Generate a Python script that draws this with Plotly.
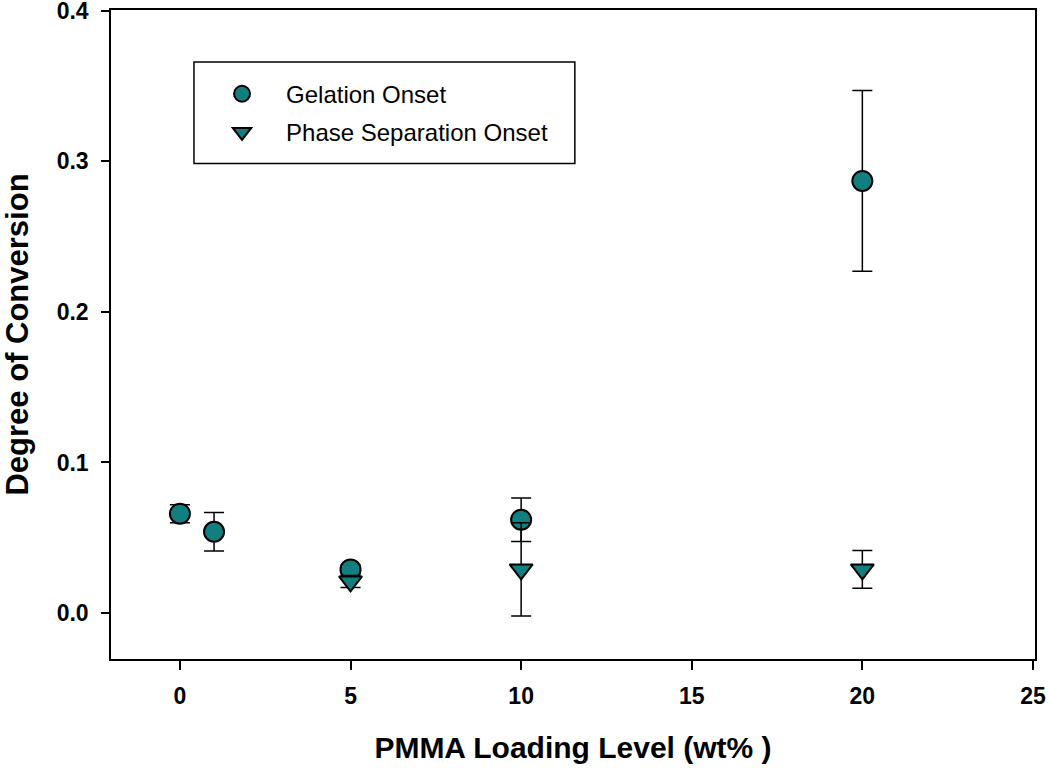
import plotly.graph_objects as go

# Data
x_gel = [0, 1, 5, 10, 20]
y_gel = [0.066, 0.054, 0.029, 0.062, 0.287]
err_gel = [0.006, 0.0128, 0.003, 0.0145, 0.06]

x_ps = [5, 10, 20]
y_ps = [0.021, 0.029, 0.029]
err_ps = [0.004, 0.031, 0.0125]

names = ["Gelation Onset", "Phase Separation Onset"]
x_ticks = [0, 5, 10, 15, 20, 25]
y_ticks = [0.0, 0.1, 0.2, 0.3, 0.4]

teal = "#117f7f"
FONT = "Liberation Sans, Arial, sans-serif"

fig = go.Figure()
fig.add_trace(go.Scatter(
    x=x_gel, y=y_gel, mode="markers", name=names[0], legendgroup="g1",
    marker=dict(symbol="circle", size=20, color=teal, line=dict(color="black", width=2)),
    error_y=dict(type="data", array=err_gel, visible=True, color="black", thickness=1.5, width=10),
))
fig.add_trace(go.Scatter(
    x=x_ps, y=y_ps, mode="markers", name=names[1], legendgroup="g2",
    marker=dict(symbol="triangle-down", size=20, color=teal, line=dict(color="black", width=2)),
    error_y=dict(type="data", array=err_ps, visible=True, color="black", thickness=1.5, width=10),
))

fig.update_layout(
    width=1050, height=770,
    margin=dict(l=111, r=15, t=10, b=111, autoexpand=False),
    paper_bgcolor="white", plot_bgcolor="white",
    font=dict(family=FONT, color="black"),
    showlegend=True,
    legend=dict(
        x=0.0942, y=0.905, xanchor="left", yanchor="top",
        bgcolor="rgba(0,0,0,0)", borderwidth=0,
        font=dict(size=24, family=FONT, color="black"),
        tracegroupgap=4, itemwidth=78,
    ),
    shapes=[dict(
        type="rect", xref="paper", yref="paper",
        x0=0.0898, x1=0.502, y0=0.7634, y1=0.920,
        line=dict(color="black", width=1.5), fillcolor="rgba(0,0,0,0)",
    )],
)

fig.update_xaxes(
    range=[-2.02, 25.06], tickvals=x_ticks, ticktext=[str(v) for v in x_ticks],
    showgrid=False, zeroline=False, automargin=False,
    showline=True, linecolor="black", linewidth=1.5, mirror=True,
    ticks="outside", ticklen=9, tickwidth=1.5, tickcolor="black",
    tickfont=dict(size=23, family=FONT, color="black", weight="bold"),
    ticklabelstandoff=7, ticklabeloverflow="allow",
    title=dict(text="<b>PMMA Loading Level (wt% )</b>", font=dict(size=30, family=FONT, color="black"), standoff=29),
)
fig.update_yaxes(
    range=[-0.0305, 0.4005], tickvals=y_ticks, ticktext=[f"{v:.1f}" for v in y_ticks],
    showgrid=False, zeroline=False, automargin=False,
    showline=True, linecolor="black", linewidth=1.5, mirror=True,
    ticks="outside", ticklen=8, tickwidth=1.5, tickcolor="black",
    tickfont=dict(size=23, family=FONT, color="black", weight="bold"),
    ticklabelstandoff=8, ticklabeloverflow="allow",
    title=dict(text="<b>Degree of Conversion</b>", font=dict(size=31, family=FONT, color="black"), standoff=22),
)

fig.write_html(
    "out.html",
    config={"displayModeBar": False},
    post_script="document.body.style.margin='0';document.body.style.padding='0';",
)
